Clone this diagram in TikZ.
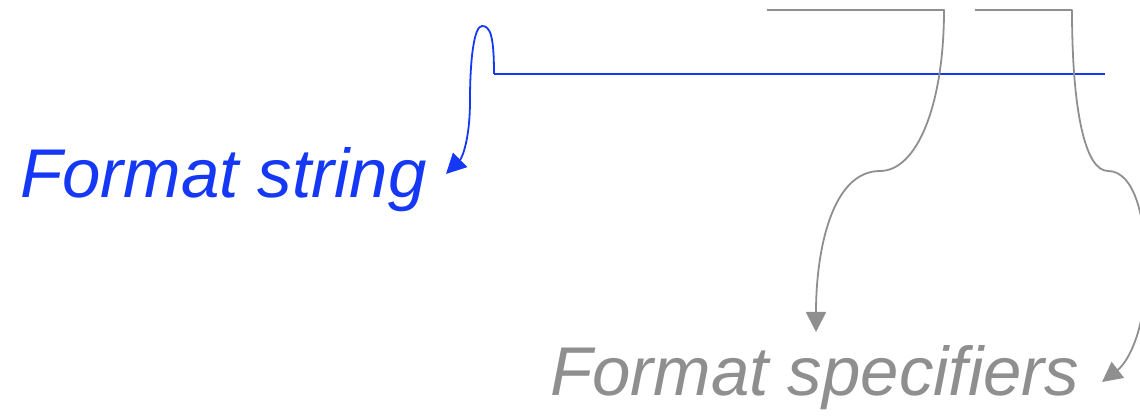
\documentclass[tikz,border=0pt]{standalone}
\usepackage{fontspec}
\setmainfont{Liberation Sans}
\usetikzlibrary{arrows.meta}
\definecolor{fblue}{RGB}{20,56,245}
\definecolor{fgray}{RGB}{143,143,143}
\tikzset{
  lbl/.style={font=\fontsize{69}{80}\selectfont\itshape, inner sep=0pt, anchor=base west},
  conn/.style={line width=1.8pt, -{Triangle[length=20pt,width=20pt]}},
  bar/.style={line width=1.8pt},
}
\begin{document}
\begin{tikzpicture}[x=1pt,y=-1pt]
\clip (0,0) rectangle (1140,419);
\node[lbl, text=fblue] (fs) at (20,198) {Format string};
\node[lbl, text=fgray] (fsp) at (550,395) {Format specifiers};
% blue
\coordinate (b0) at (494,74);
\coordinate (b1) at (1105,74);
\coordinate (bt) at (446,174);
\draw[bar, fblue] (b0) -- (b1);
\draw[conn, fblue] (b0) .. controls (494,35) and (490,26) .. (482,26)
  .. controls (474,26) and (470,60) .. (470,100)
  .. controls (470,140) and (462,158) .. (bt);
% gray 1
\coordinate (g1a) at (767,10);
\coordinate (g1b) at (944,10);
\coordinate (g1t) at (816,332);
\draw[conn, fgray, line join=round] (g1a) -- (g1b) .. controls (944,105) and (917,171) .. (880,171)
  .. controls (832,171) and (816,250) .. (g1t);
% gray 2
\coordinate (g2a) at (975,10);
\coordinate (g2b) at (1072,10);
\coordinate (g2t) at (1102,382);
\draw[conn, fgray, line join=round] (g2a) -- (g2b) .. controls (1072,110) and (1085,171) .. (1108,171)
  .. controls (1135,171) and (1146,220) .. (1146,270)
  .. controls (1146,330) and (1128,362) .. (g2t);
\end{tikzpicture}
\end{document}
